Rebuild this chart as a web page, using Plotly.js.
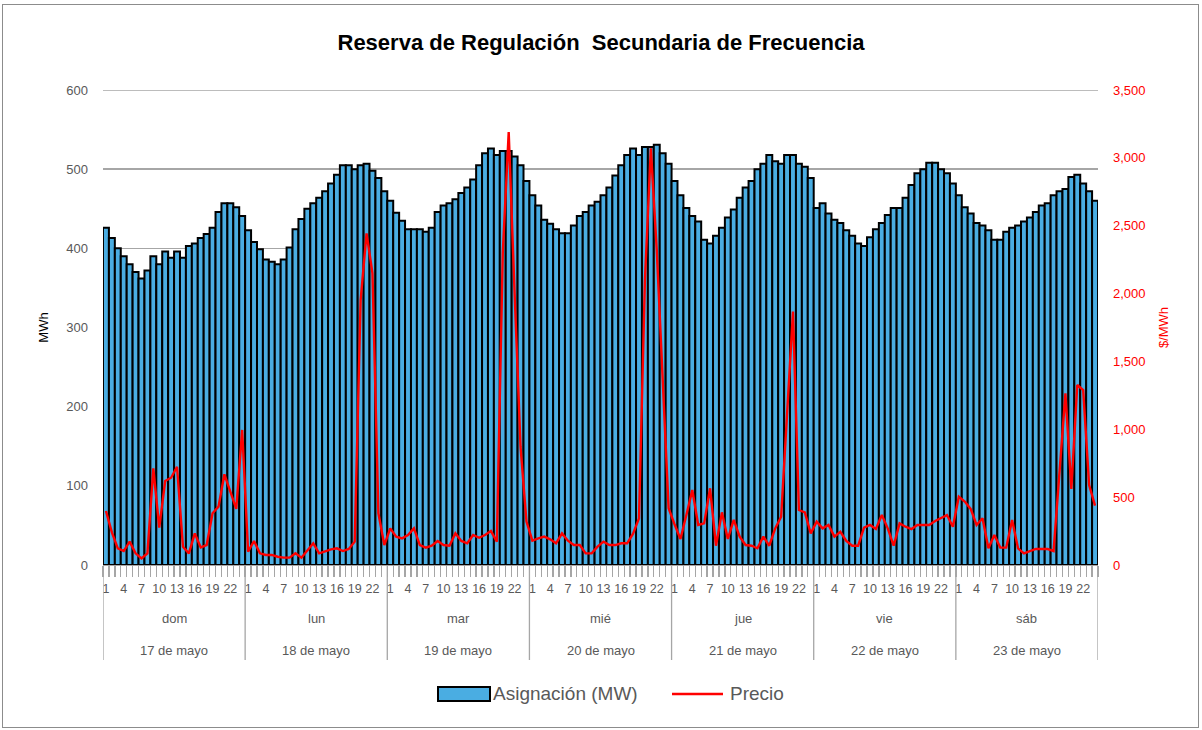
<!DOCTYPE html>
<html>
<head>
<meta charset="utf-8">
<script src="https://cdn.plot.ly/plotly-3.0.1.min.js"></script>
<style>
  html, body { margin: 0; padding: 0; background: #ffffff; }
  #wrap { position: relative; width: 1202px; height: 730px; }
  #chart { position: absolute; left: 0; top: 0; width: 1202px; height: 730px; }
  #frame { position: absolute; left: 2px; top: 4px; width: 1195px; height: 722px;
           border: 1px solid #8c8c8c; pointer-events: none; }
</style>
</head>
<body>
<div id="wrap"><div id="chart"></div><div id="frame"></div></div>
<script>
// ---- Data ----
const dayNames = ['dom', 'lun', 'mar', 'mié', 'jue', 'vie', 'sáb'];
const dayDates = ['17 de mayo', '18 de mayo', '19 de mayo', '20 de mayo', '21 de mayo', '22 de mayo', '23 de mayo'];
const hourTicks = [1, 4, 7, 10, 13, 16, 19, 22];
const seriesNames = ['Asignación (MW)', 'Precio'];

// Asignación (MW), hours 1..24 of each day
const asigDom = [426, 413, 400, 390, 380, 370, 362, 372, 390, 380, 396, 388, 396, 388, 403, 406, 413, 418, 426, 446, 457, 457, 452, 441];
const asigLun = [423, 408, 399, 386, 383, 380, 386, 401, 424, 437, 450, 457, 464, 472, 482, 493, 505, 505, 500, 505, 507, 498, 489, 472];
const asigMar = [460, 445, 435, 424, 424, 424, 421, 426, 446, 454, 457, 462, 470, 477, 487, 505, 520, 526, 518, 523, 523, 516, 505, 485];
const asigMie = [467, 454, 436, 431, 424, 419, 419, 429, 441, 446, 454, 459, 467, 477, 492, 505, 518, 526, 518, 528, 528, 531, 520, 507];
const asigJue = [485, 467, 451, 441, 434, 411, 406, 416, 426, 439, 449, 464, 477, 485, 500, 507, 518, 510, 507, 518, 518, 507, 503, 489];
const asigVie = [451, 457, 444, 436, 432, 423, 416, 406, 403, 414, 424, 432, 442, 451, 451, 464, 480, 495, 500, 508, 508, 500, 495, 482];
const asigSab = [467, 452, 444, 432, 429, 423, 411, 411, 421, 426, 429, 434, 439, 446, 454, 457, 467, 472, 475, 490, 493, 482, 472, 460];

// Precio ($/MWh), hours 1..24 of each day
const precioDom = [398, 240, 123, 103, 172, 86, 49, 86, 712, 275, 619, 643, 724, 135, 86, 233, 130, 147, 381, 430, 668, 540, 413, 995];
const precioLun = [98, 177, 86, 74, 74, 61, 54, 54, 86, 54, 111, 160, 86, 103, 115, 123, 103, 118, 172, 1952, 2444, 2149, 381, 147];
const precioMar = [270, 209, 196, 221, 270, 147, 128, 142, 177, 147, 142, 233, 177, 160, 221, 201, 221, 250, 172, 2300, 3190, 2000, 870, 320];
const precioMie = [180, 196, 209, 189, 160, 233, 179, 147, 147, 86, 86, 135, 172, 147, 147, 160, 160, 231, 344, 2100, 3070, 2320, 1400, 418];
const precioJue = [300, 192, 368, 553, 295, 307, 565, 142, 388, 192, 332, 209, 147, 142, 123, 209, 142, 270, 356, 1100, 1867, 405, 388, 233];
const precioVie = [319, 270, 295, 209, 245, 177, 142, 142, 275, 295, 265, 368, 270, 142, 307, 282, 265, 295, 295, 295, 324, 349, 368, 282];
const precioSab = [503, 467, 413, 295, 344, 123, 221, 128, 128, 332, 123, 86, 103, 118, 118, 118, 103, 650, 1265, 560, 1326, 1289, 589, 437];

// ---- Build series ----
const asignacion = [].concat(asigDom, asigLun, asigMar, asigMie, asigJue, asigVie, asigSab);
const precio = [].concat(precioDom, precioLun, precioMar, precioMie, precioJue, precioVie, precioSab);
const hoursPerDay = 24;
const xs = asignacion.map((_, i) => i + 1);

const tickvals = [], ticktext = [];
dayNames.forEach((_, d) => hourTicks.forEach(h => { tickvals.push(d * hoursPerDay + h); ticktext.push(String(h)); }));

const gray = '#595959';
const barBlue = '#4AADE2';
const red = '#FF0000';
const font = "'Liberation Sans', Arial, sans-serif";

// plot-area geometry (pixels) used only for placing the legend
const M = { l: 103, r: 104, t: 90, b: 165 };
const PW = 1202 - M.l - M.r, PH = 730 - M.t - M.b;
const px = v => (v - M.l) / PW;
const py = v => (730 - M.b - v) / PH;

const annotations = [];
const shapes = [];
dayNames.forEach((name, d) => {
  const cx = d * hoursPerDay + (hoursPerDay + 1) / 2;
  annotations.push({ x: cx, xref: 'x', y: py(618), yref: 'paper', text: name, showarrow: false,
                     font: { family: font, size: 13, color: gray }, xanchor: 'center', yanchor: 'middle' });
  annotations.push({ x: cx, xref: 'x', y: py(650), yref: 'paper', text: dayDates[d], showarrow: false,
                     font: { family: font, size: 13, color: gray }, xanchor: 'center', yanchor: 'middle' });
});
for (let d = 0; d <= dayNames.length; d++) {
  shapes.push({ type: 'line', xref: 'x', yref: 'paper', x0: d * hoursPerDay + 0.5, x1: d * hoursPerDay + 0.5,
                y0: 0, y1: py(660), line: { color: '#a6a6a6', width: 1.3 } });
}
// top gridline at 600
shapes.push({ type: 'line', xref: 'paper', yref: 'y', x0: 0, x1: 1, y0: 600, y1: 600,
              line: { color: '#a6a6a6', width: 1.5 }, layer: 'below' });

// legend (drawn as shapes + text to match the wide swatches)
shapes.push({ type: 'rect', xref: 'paper', yref: 'paper', x0: px(438), x1: px(490), y0: py(701), y1: py(687),
              fillcolor: barBlue, line: { color: '#000000', width: 2 } });
annotations.push({ x: px(491), xref: 'paper', y: py(694), yref: 'paper', text: seriesNames[0], showarrow: false,
                   xanchor: 'left', yanchor: 'middle', font: { family: font, size: 19, color: gray } });
shapes.push({ type: 'line', xref: 'paper', yref: 'paper', x0: px(672), x1: px(723), y0: py(694), y1: py(694),
              line: { color: red, width: 2.5 } });
annotations.push({ x: px(728), xref: 'paper', y: py(694), yref: 'paper', text: seriesNames[1], showarrow: false,
                   xanchor: 'left', yanchor: 'middle', font: { family: font, size: 19, color: gray } });

const traces = [
  { type: 'bar', name: seriesNames[0], x: xs, y: asignacion,
    marker: { color: barBlue, line: { color: '#000000', width: 2 } }, yaxis: 'y' },
  { type: 'scatter', mode: 'lines', name: seriesNames[1], x: xs, y: precio,
    line: { color: red, width: 2.4 }, yaxis: 'y2' }
];

const layout = {
  width: 1202, height: 730,
  margin: M,
  paper_bgcolor: 'rgba(0,0,0,0)', plot_bgcolor: 'rgba(0,0,0,0)',
  bargap: 0,
  showlegend: false,
  title: { text: 'Reserva de Regulación  Secundaria de Frecuencia', x: 0.5, xanchor: 'center',
           y: 1 - 42 / 730, yanchor: 'middle',
           font: { family: font, size: 22, color: '#000000', weight: 'bold' } },
  xaxis: {
    type: 'linear', range: [0.5, 168.5], fixedrange: true,
    tickmode: 'array', tickvals: tickvals, ticktext: ticktext,
    ticks: '', ticklabelstandoff: 12,
    tickfont: { family: font, size: 12.5, color: gray }, tickangle: 0,
    showgrid: false, zeroline: false,
    showline: true, linecolor: '#a6a6a6', linewidth: 1.3,
    minor: { tickmode: 'linear', tick0: 0.5, dtick: 1, ticks: 'outside', ticklen: 11,
             tickcolor: '#a6a6a6', tickwidth: 1.3, showgrid: false }
  },
  yaxis: {
    range: [0, 600], dtick: 100, tick0: 0,
    showgrid: true, gridcolor: '#a6a6a6', gridwidth: 1.5,
    zeroline: false, showline: false, ticks: '', ticklabelstandoff: 14,
    tickfont: { family: font, size: 13, color: gray },
    title: { text: 'MWh', font: { family: font, size: 13, color: '#000000' }, standoff: 14 }
  },
  yaxis2: {
    overlaying: 'y', side: 'right', range: [0, 3500], dtick: 500, tick0: 0,
    showgrid: false, zeroline: false, showline: false, ticks: '', ticklabelstandoff: 14,
    tickformat: ',d',
    tickfont: { family: font, size: 13, color: red },
    title: { text: '$/MWh', font: { family: font, size: 13, color: red }, standoff: 14 }
  },
  annotations: annotations,
  shapes: shapes
};

Plotly.newPlot('chart', traces, layout, { displayModeBar: false, staticPlot: true });
</script>
</body>
</html>
